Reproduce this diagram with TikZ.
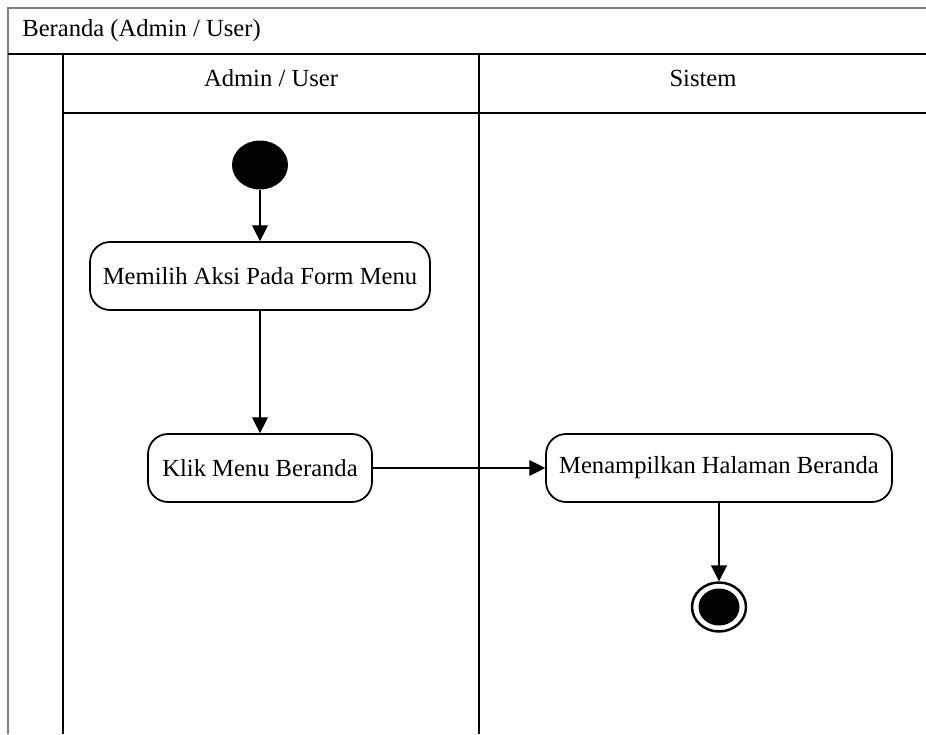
\documentclass[tikz,border=0pt]{standalone}
\usepackage{fontspec}
\setmainfont{Liberation Serif}
\usetikzlibrary{arrows.meta,shapes.geometric}

\begin{document}
\begin{tikzpicture}[x=0.02cm,y=-0.02cm,
    font=\fontsize{14}{17}\selectfont,
    lane/.style={line width=1.2pt},
    frame/.style={line width=0.9pt,gray},
    action/.style={draw,line width=1pt,rounded corners=0.4cm,minimum height=1.36cm,inner sep=0pt},
    flow/.style={line width=0.7pt,-{Triangle[width=9pt,length=9pt]}}]
 	\useasboundingbox (0,0) rectangle (926,734);
 	% swimlane frame
 	\draw [frame] (8,734) -- (8,8) -- (926,8);
 	\draw [lane] (8,54) -- (926,54);
 	\draw [lane] (63,54) -- (63,734);
 	\draw [lane] (479,54) -- (479,734);
 	\draw [lane] (63,113) -- (926,113);
 	\node (title) [anchor=west,inner sep=0pt] at (22,31) {Beranda (Admin / User)};
 	\node (laneuser) at (271,78) {Admin / User};
 	\node (lanesys) at (703,78) {Sistem};
 	% activities
 	\node (start) [fill=black,ellipse,minimum width=1.12cm,minimum height=0.98cm,inner sep=0pt] at (260,165) {};
 	\node (pilih) [action,minimum width=6.8cm] at (260,276) {Memilih Aksi Pada Form Menu};
 	\node (klik) [action,minimum width=4.48cm] at (260,468) {Klik Menu Beranda};
 	\node (tampil) [action,minimum width=6.92cm] at (719,468) {Menampilkan Halaman Beranda};
 	\node (stop) [draw,line width=1.4pt,ellipse,minimum width=1.08cm,minimum height=0.98cm,inner sep=0pt] at (719,607) {};
 	\fill [black] (stop.center) ellipse (0.41cm and 0.37cm);
 	% transitions
 	\draw [flow] (start) -- (pilih);
 	\draw [flow] (pilih) -- (klik);
 	\draw [flow] (klik) -- (tampil);
 	\draw [flow] (tampil) -- (stop);
\end{tikzpicture}
\end{document}
